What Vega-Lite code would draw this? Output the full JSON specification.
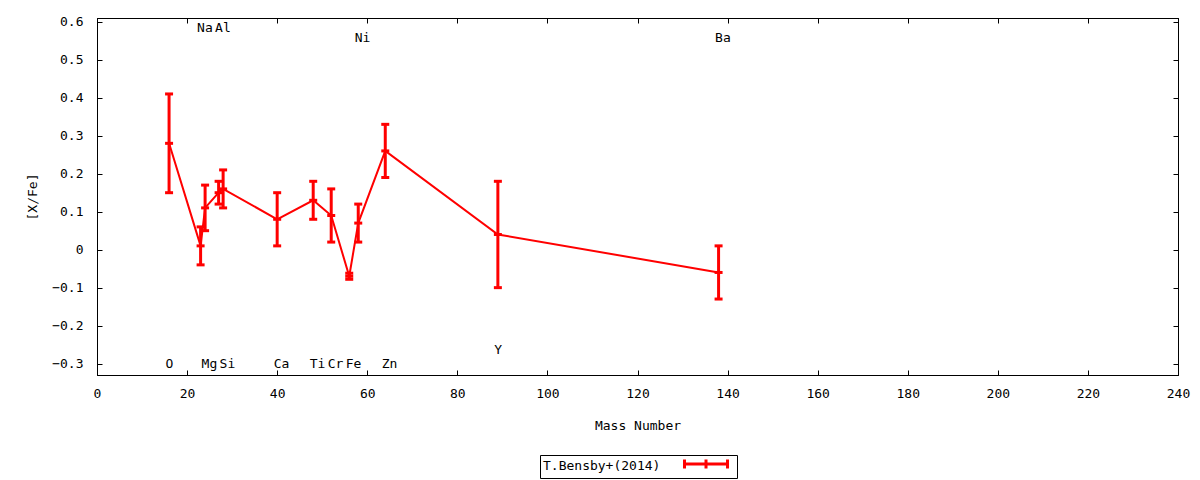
{
  "$schema": "https://vega.github.io/schema/vega-lite/v6.json",
  "width": 1081,
  "height": 357,
  "autosize": {"type": "none"},
  "padding": {"left": 97, "top": 18, "right": 22, "bottom": 105},
  "background": "white",
  "config": {
    "font": "DejaVu Sans Mono",
    "view": {"stroke": "black", "strokeWidth": 1},
    "axis": {
      "grid": false,
      "domainColor": "black",
      "tickColor": "black",
      "labelColor": "black",
      "titleColor": "black",
      "labelFont": "DejaVu Sans Mono",
      "titleFont": "DejaVu Sans Mono",
      "labelFontSize": 13,
      "titleFontSize": 13,
      "titleFontWeight": "normal",
      "tickSize": -5,
      "tickWidth": 1,
      "domainWidth": 1
    }
  },
  "data": {
    "values": [
      {"element": "O", "mass": 16, "xfe": 0.28, "lo": 0.15, "hi": 0.41, "label_y": -0.3},
      {"element": "Na", "mass": 23, "xfe": 0.01, "lo": -0.04, "hi": 0.06, "label_y": 0.584},
      {"element": "Mg", "mass": 24, "xfe": 0.11, "lo": 0.05, "hi": 0.17, "label_y": -0.3},
      {"element": "Al", "mass": 27, "xfe": 0.15, "lo": 0.12, "hi": 0.18, "label_y": 0.584},
      {"element": "Si", "mass": 28, "xfe": 0.16, "lo": 0.11, "hi": 0.21, "label_y": -0.3},
      {"element": "Ca", "mass": 40, "xfe": 0.08, "lo": 0.01, "hi": 0.15, "label_y": -0.3},
      {"element": "Ti", "mass": 48, "xfe": 0.13, "lo": 0.08, "hi": 0.18, "label_y": -0.3},
      {"element": "Cr", "mass": 52, "xfe": 0.09, "lo": 0.02, "hi": 0.16, "label_y": -0.3},
      {"element": "Fe", "mass": 56, "xfe": -0.07, "lo": -0.078, "hi": -0.062, "label_y": -0.3},
      {"element": "Ni", "mass": 58, "xfe": 0.07, "lo": 0.02, "hi": 0.12, "label_y": 0.558},
      {"element": "Zn", "mass": 64, "xfe": 0.26, "lo": 0.19, "hi": 0.33, "label_y": -0.3},
      {"element": "Y", "mass": 89, "xfe": 0.04, "lo": -0.1, "hi": 0.18, "label_y": -0.264},
      {"element": "Ba", "mass": 138, "xfe": -0.06, "lo": -0.13, "hi": 0.01, "label_y": 0.558}
    ]
  },
  "layer": [
    {
      "mark": {"type": "line", "color": "#ff0000", "strokeWidth": 2},
      "encoding": {
        "x": {
          "field": "mass",
          "type": "quantitative",
          "scale": {"domain": [0, 240], "nice": false, "zero": false},
          "axis": {
            "orient": "bottom",
            "title": "Mass Number",
            "values": [0, 20, 40, 60, 80, 100, 120, 140, 160, 180, 200, 220, 240],
            "labelPadding": 17,
            "titlePadding": 19,
            "labelFlush": false
          }
        },
        "y": {
          "field": "xfe",
          "type": "quantitative",
          "scale": {"domain": [-0.33, 0.61], "nice": false, "zero": false},
          "axis": {
            "orient": "left",
            "title": "[X/Fe]",
            "values": [-0.3, -0.2, -0.1, 0, 0.1, 0.2, 0.3, 0.4, 0.5, 0.6],
            "labelExpr": "datum.value == 0 ? '0' : format(datum.value, '.1f')",
            "labelPadding": 19,
            "titlePadding": 12,
            "labelFlush": false
          }
        }
      }
    },
    {
      "mark": {"type": "rule", "strokeWidth": 3},
      "encoding": {
        "x": {"field": "mass", "type": "quantitative", "axis": null},
        "y": {"field": "lo", "type": "quantitative", "axis": null},
        "y2": {"field": "hi"},
        "color": {
          "datum": "T.Bensby+(2014)",
          "type": "nominal",
          "scale": {"range": ["#ff0000"]},
          "legend": {
            "orient": "none",
            "legendX": 443,
            "legendY": 437,
            "title": "T.Bensby+(2014)",
            "titleOrient": "left",
            "titleFont": "DejaVu Sans Mono",
            "titleFontSize": 13,
            "titleFontWeight": "normal",
            "titleColor": "black",
            "titlePadding": 22,
            "labelExpr": "''",
            "labelFontSize": 1,
            "labelOffset": 23,
            "symbolType": "M-1,0H8.56M-1,-1V1M3.78,-1V1M8.56,-1V1",
            "symbolSize": 81,
            "symbolStrokeWidth": 3,
            "symbolStrokeColor": "#ff0000",
            "strokeColor": "black",
            "padding": 3
          }
        }
      }
    },
    {
      "mark": {"type": "point", "shape": "stroke", "size": 64, "strokeWidth": 3, "color": "#ff0000", "opacity": 1},
      "encoding": {
        "x": {"field": "mass", "type": "quantitative", "axis": null},
        "y": {"field": "xfe", "type": "quantitative", "axis": null}
      }
    },
    {
      "mark": {"type": "point", "shape": "stroke", "size": 64, "strokeWidth": 3, "color": "#ff0000", "opacity": 1},
      "encoding": {
        "x": {"field": "mass", "type": "quantitative", "axis": null},
        "y": {"field": "lo", "type": "quantitative", "axis": null}
      }
    },
    {
      "mark": {"type": "point", "shape": "stroke", "size": 64, "strokeWidth": 3, "color": "#ff0000", "opacity": 1},
      "encoding": {
        "x": {"field": "mass", "type": "quantitative", "axis": null},
        "y": {"field": "hi", "type": "quantitative", "axis": null}
      }
    },
    {
      "mark": {"type": "text", "align": "left", "baseline": "middle", "dx": -3.5, "font": "DejaVu Sans Mono", "fontSize": 13, "color": "black"},
      "encoding": {
        "x": {
          "field": "mass",
          "type": "quantitative",
          "axis": {
            "orient": "top",
            "title": null,
            "labels": false,
            "values": [0, 20, 40, 60, 80, 100, 120, 140, 160, 180, 200, 220, 240]
          }
        },
        "y": {
          "field": "label_y",
          "type": "quantitative",
          "axis": {
            "orient": "right",
            "title": null,
            "labels": false,
            "values": [-0.3, -0.2, -0.1, 0, 0.1, 0.2, 0.3, 0.4, 0.5, 0.6]
          }
        },
        "text": {"field": "element"}
      }
    }
  ],
  "resolve": {"axis": {"x": "independent", "y": "independent"}}
}
